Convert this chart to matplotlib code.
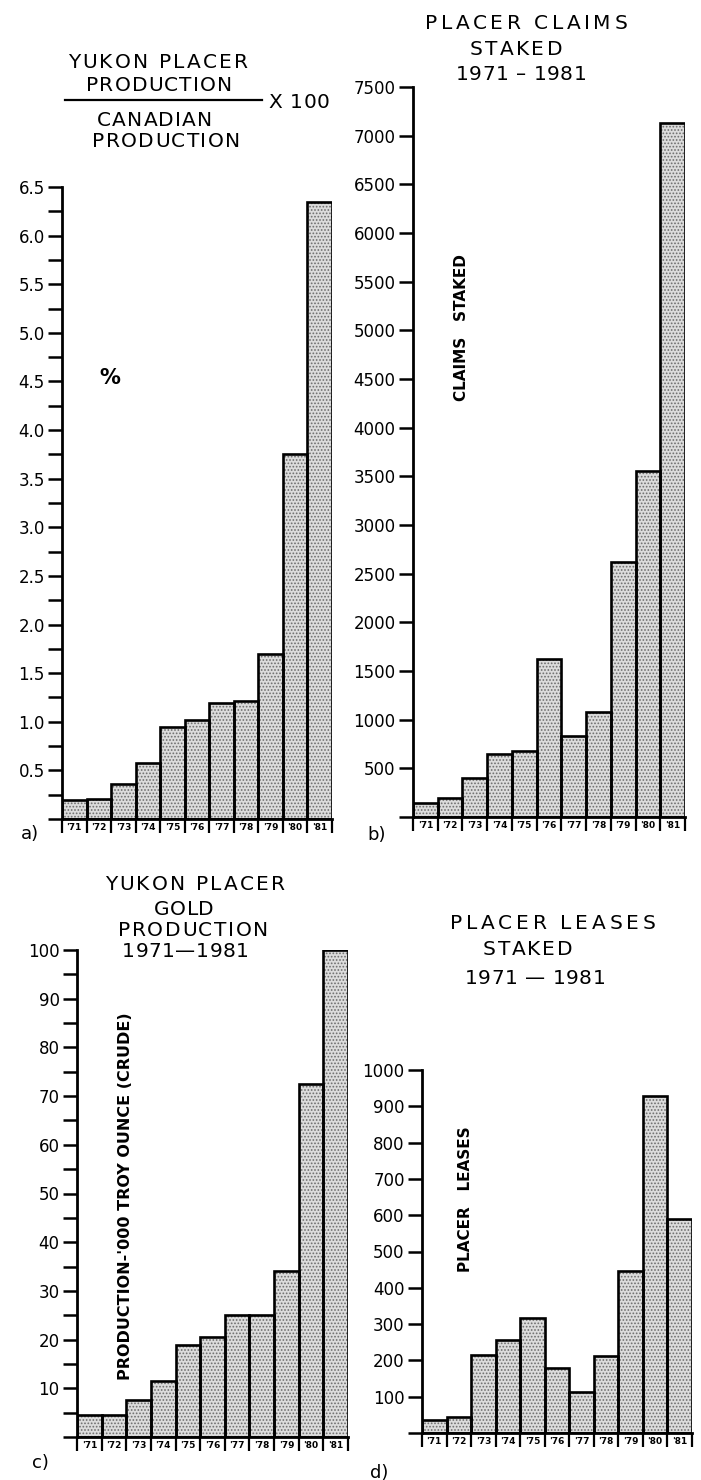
import matplotlib
matplotlib.use("Agg")
import matplotlib.pyplot as plt
import numpy as np
from matplotlib.lines import Line2D
from matplotlib.font_manager import findfont, FontProperties, get_font

plt.rcParams['font.family'] = ['DejaVu Sans']
plt.rcParams['hatch.color'] = '#6e6e6e'
plt.rcParams['hatch.linewidth'] = 0.8

years = ["'71", "'72", "'73", "'74", "'75", "'76", "'77", "'78", "'79", "'80", "'81"]
pct_values = [0.20, 0.21, 0.36, 0.58, 0.95, 1.02, 1.19, 1.21, 1.70, 3.75, 6.35]
claims_values = [140, 200, 400, 650, 680, 1620, 835, 1080, 2620, 3550, 7130]
gold_values = [4.5, 4.6, 7.6, 11.4, 18.8, 20.6, 25.1, 25.1, 34.0, 72.4, 100.0]
lease_values = [35, 45, 215, 255, 318, 180, 114, 213, 445, 928, 590]

W, H = 701, 1480
fig = plt.figure(figsize=(W / 100, H / 100), dpi=100)

FT = get_font(findfont(FontProperties(family='DejaVu Sans')))


def ax_at(x0, x1, ytop, ybot):
    return fig.add_axes([x0 / W, 1 - ybot / H, (x1 - x0) / W, (ybot - ytop) / H])


def ftext(x, y, s, **kw):
    fig.text(x / W, 1 - y / H, s, ha=kw.pop('ha', 'center'), va=kw.pop('va', 'center'), **kw)


def spaced(x0, x1, y, s, fs=14.5):
    """Draw a title line letter-spaced to span roughly x0..x1 (pixels), centred on y."""
    em = fs * 100 / 72
    FT.set_size(fs, 100)
    adv = []
    for ch in s:
        g = FT.load_char(ord(ch))
        adv.append(g.linearHoriAdvance / 65536)
    natural = sum(adv)
    gap = (x1 - x0 - natural) / max(len(s) - 1, 1)
    gap = max(gap, 0.5)
    total = natural + gap * (len(s) - 1)
    xpos = (x0 + x1) / 2 - total / 2
    base = y + 0.73 * em / 2
    for ch, a in zip(s, adv):
        if ch != ' ':
            fig.text(xpos / W, 1 - base / H, ch, fontsize=fs, ha='left', va='baseline')
        xpos += a + gap


def draw_panel(ax, vals, ymax, major_step, minor_step, fmt):
    x = np.arange(len(vals))
    ax.bar(x, vals, width=1.0, color='#dcdcdc', hatch='.....', edgecolor='#6e6e6e', linewidth=0, zorder=2)
    ax.bar(x, vals, width=1.0, fill=False, edgecolor='black', linewidth=1.9, zorder=3)
    ax.set_xlim(-0.5, len(vals) - 0.5)
    ax.set_ylim(0, ymax)
    for s in ['top', 'right']:
        ax.spines[s].set_visible(False)
    ax.spines['left'].set_linewidth(2.0)
    ax.spines['bottom'].set_linewidth(2.0)
    ax.spines['left'].set_bounds(0, ymax)
    ax.set_xticks(np.arange(-0.5, len(vals), 1.0))
    ax.set_xticklabels([])
    ax.tick_params(axis='x', which='major', direction='out', length=10, width=1.6)
    ax.set_xticks(x, minor=True)
    ax.set_xticklabels(years, minor=True, fontsize=6.5, fontweight='bold')
    ax.tick_params(axis='x', which='minor', length=0, pad=3)
    majors = np.arange(0, ymax + major_step / 2, major_step)
    ax.set_yticks(majors)
    ax.set_yticklabels([''] + [fmt(v) for v in majors[1:]], fontsize=12)
    ax.tick_params(axis='y', which='major', direction='out', length=10, width=1.8, pad=2.5)
    if minor_step:
        ax.set_yticks(np.arange(minor_step, ymax, major_step), minor=True)
        ax.tick_params(axis='y', which='minor', direction='out', length=10, width=1.8)
    ax.set_facecolor('none')


# Panel a
axa = ax_at(62, 332, 187, 819)
draw_panel(axa, pct_values, 6.5, 0.5, 0.25, lambda v: f"{v:.1f}")
ftext(110, 378, "%", fontsize=15, fontweight='bold')
spaced(68, 248, 61, "YUKON PLACER")
spaced(86, 232, 84, "PRODUCTION")
fig.add_artist(Line2D([65 / W, 262 / W], [1 - 100 / H, 1 - 100 / H], color='black', linewidth=1.6))
spaced(270, 328, 101, "X 100")
spaced(97, 212, 119, "CANADIAN")
spaced(92, 240, 140, "PRODUCTION")
ftext(30, 834, "a)", fontsize=13)

# Panel b
axb = ax_at(413, 685, 87, 817)
draw_panel(axb, claims_values, 7500, 500, None, lambda v: f"{int(v)}")
ftext(462, 328, "CLAIMS   STAKED", fontsize=11, fontweight='bold', rotation=90)
spaced(425, 627, 22, "PLACER CLAIMS")
spaced(470, 562, 48, "STAKED")
spaced(465, 577, 73, "1971 \u2013 1981")
ftext(377, 835, "b)", fontsize=13)

# Panel c
axc = ax_at(77, 348, 950, 1437)
draw_panel(axc, gold_values, 100, 10, 5, lambda v: f"{int(v)}")
ftext(125, 1196, "PRODUCTION-'000 TROY OUNCE (CRUDE)", fontsize=11.5, fontweight='bold', rotation=90)
spaced(105, 285, 883, "YUKON PLACER")
spaced(155, 213, 908, "GOLD")
spaced(118, 268, 929, "PRODUCTION")
spaced(128, 243, 950, "1971\u20141981")
ftext(40, 1463, "c)", fontsize=13)

# Panel d
axd = ax_at(422, 692, 1070, 1433)
draw_panel(axd, lease_values, 1000, 100, None, lambda v: f"{int(v)}")
ftext(465, 1199, "PLACER   LEASES", fontsize=11, fontweight='bold', rotation=90)
spaced(450, 655, 922, "PLACER LEASES")
spaced(483, 572, 948, "STAKED")
spaced(477, 593, 977, "1971 \u2014 1981")
ftext(379, 1473, "d)", fontsize=13)

fig.savefig("out.png", dpi=100)
